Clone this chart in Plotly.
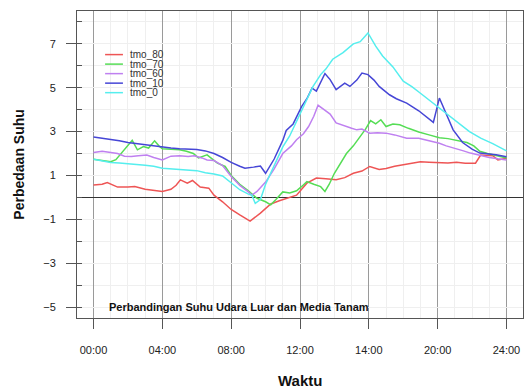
import plotly.graph_objects as go

# Temperature difference (outside air vs. growing medium) over one day
series_names = ["tmo_80", "tmo_70", "tmo_60", "tmo_10", "tmo_0"]
series_colors = ["#ee5555", "#55dd55", "#bf80f0", "#4646d6", "#55eeee"]

t_80 = [0, 0.5, 0.8, 1.0, 1.4, 2.0, 2.4, 3.0, 3.5, 4.0, 4.5, 4.8, 5.05, 5.45, 5.75, 6.2, 6.7, 7.0,
        7.5, 8.0, 8.5, 9.1, 9.7, 10.3, 10.8, 11.2, 11.8, 12.4, 12.95, 13.5, 14.1, 14.6, 15.1, 15.6,
        16.05, 16.6, 17.0, 17.5, 18.0, 18.5, 19.0, 19.5, 20.1, 20.6, 21.1, 21.6, 22.2, 22.5, 23.2,
        23.5, 24.0]
v_80 = [0.57, 0.6, 0.68, 0.62, 0.47, 0.47, 0.5, 0.37, 0.33, 0.27, 0.37, 0.55, 0.8, 0.65, 0.77, 0.47,
        0.42, 0.1, -0.2, -0.55, -0.8, -1.08, -0.72, -0.3, -0.15, -0.04, 0.1, 0.65, 0.88, 0.85, 0.8,
        0.9, 1.1, 1.2, 1.41, 1.27, 1.32, 1.42, 1.48, 1.55, 1.62, 1.6, 1.59, 1.57, 1.6, 1.56, 1.56,
        1.93, 1.9, 1.71, 1.78]

t_70 = [0, 0.5, 1.0, 1.3, 1.6, 2.0, 2.25, 2.55, 2.9, 3.2, 3.55, 3.8, 4.0, 4.5, 5.0, 5.4, 5.8, 6.1,
        6.6, 7.2, 7.65, 8.0, 8.5, 9.0, 9.5, 10.0, 10.3, 10.6, 11.0, 11.4, 11.8, 12.1, 12.4, 12.8,
        13.2, 13.45, 13.7, 14.0, 14.4, 14.7, 15.1, 15.5, 15.8, 16.1, 16.4, 16.7, 17.0, 17.4, 17.8,
        18.3, 18.9, 19.5, 20.1, 20.6, 21.2, 21.7, 22.1, 22.45, 22.9, 23.4, 24.0]
v_70 = [1.74, 1.68, 1.63, 1.72, 2.0, 2.35, 2.6, 2.17, 2.32, 2.25, 2.58, 2.35, 2.22, 2.2, 2.17, 2.1,
        2.0, 1.8, 1.94, 1.56, 1.41, 1.0, 0.6, 0.3, -0.04, -0.2, -0.34, -0.1, 0.25, 0.2, 0.3, 0.5,
        0.72, 0.6, 0.49, 0.27, 0.6, 1.1, 1.6, 2.0, 2.35, 2.78, 3.1, 3.5, 3.35, 3.54, 3.23, 3.35,
        3.31, 3.15, 2.98, 2.85, 2.72, 2.68, 2.6, 2.5, 2.35, 2.1, 2.0, 1.9, 1.8]

t_60 = [0, 0.5, 1.0, 1.4, 1.8, 2.2, 2.6, 3.1, 3.5, 4.0, 4.5, 5.0, 5.5, 5.85, 6.3, 6.6, 7.0, 7.5,
        8.0, 8.5, 9.0, 9.2, 9.5, 10.0, 10.5, 11.0, 11.5, 11.8, 12.2, 12.5, 12.8, 13.05, 13.4, 13.75,
        14.1, 14.6, 15.0, 15.3, 15.6, 16.05, 16.5, 17.0, 17.5, 18.2, 18.9, 19.5, 20.1, 20.5, 21.0,
        21.5, 21.9, 22.5, 23.0, 23.5, 24.0]
v_60 = [2.05, 2.1, 2.05, 2.0, 1.88, 1.86, 1.9, 1.93, 1.82, 1.71, 1.88, 1.9, 1.86, 1.9, 1.8, 1.71,
        1.68, 1.45, 0.95, 0.55, 0.25, 0.1, 0.27, 0.7, 1.3, 2.0, 2.35, 2.63, 2.9, 3.23, 3.7, 4.2,
        4.0, 3.8, 3.4, 3.25, 3.15, 3.08, 3.12, 2.93, 2.95, 2.93, 2.85, 2.7, 2.7, 2.58, 2.47, 2.35,
        2.25, 2.12, 2.02, 1.9, 1.82, 1.76, 1.71]

t_10 = [0, 0.5, 1.0, 1.5, 2.0, 2.5, 3.0, 3.5, 4.0, 4.5, 5.0, 5.5, 6.0, 6.5, 7.0, 7.5, 8.0, 8.5,
        8.8, 9.3, 9.7, 10.0, 10.5, 11.0, 11.2, 11.6, 12.1, 12.4, 12.7, 12.95, 13.45, 13.75, 14.1,
        14.6, 14.9, 15.3, 15.6, 15.95, 16.3, 16.6, 17.2, 17.6, 18.2, 18.9, 19.4, 19.75, 20.1, 20.5,
        20.9, 21.45, 22.0, 22.45, 23.0, 23.4, 24.0]
v_10 = [2.75, 2.7, 2.62, 2.58, 2.5, 2.45, 2.4, 2.35, 2.27, 2.25, 2.22, 2.2, 2.18, 2.12, 2.0, 1.82,
        1.6, 1.42, 1.33, 1.38, 1.43, 1.1, 1.75, 2.6, 3.05, 3.35, 4.15, 4.5, 4.98, 4.85, 5.65, 5.37,
        4.91, 5.21, 5.06, 5.35, 5.67, 5.6, 5.35, 5.06, 4.68, 4.5, 4.3, 3.95, 3.65, 3.42, 4.53, 3.84,
        3.08, 2.5, 2.2, 2.02, 1.98, 1.94, 1.85]

t_0 = [0, 0.5, 1.0, 1.5, 2.0, 2.5, 3.0, 3.5, 4.0, 4.5, 5.0, 5.5, 6.0, 6.5, 7.0, 7.5, 8.0, 8.5, 9.0,
       9.2, 9.4, 9.7, 10.0, 10.45, 11.0, 11.4, 12.1, 12.75, 13.2, 13.5, 13.9, 14.5, 15.1, 15.5,
       15.95, 16.4, 16.8, 17.4, 18.0, 18.5, 19.0, 19.5, 20.1, 21.0, 21.85, 22.5, 23.2, 24.0]
v_0 = [1.74, 1.65, 1.59, 1.57, 1.55, 1.5, 1.47, 1.42, 1.33, 1.3, 1.26, 1.25, 1.22, 1.12, 1.07, 0.98,
       0.65, 0.35, 0.15, 0.1, -0.27, -0.1, 0.6, 1.4, 2.3, 2.8, 4.0, 5.05, 5.6, 5.85, 6.3, 6.6, 7.0,
       7.1, 7.5, 6.9, 6.45, 5.95, 5.3, 5.05, 4.75, 4.45, 4.07, 3.55, 3.0, 2.7, 2.45, 2.12]

tick_pos = [0, 4, 8, 12, 16, 20, 24]
tick_text = ["00:00", "04:00", "08:00", "12:00", "14:00", "20:00", "24:00"]

times = [t_80, t_70, t_60, t_10, t_0]
values = [v_80, v_70, v_60, v_10, v_0]

FONT = "Liberation Sans, Arial, sans-serif"

fig = go.Figure()
for name, color, t, v in zip(series_names, series_colors, times, values):
    fig.add_trace(go.Scatter(x=t, y=v, mode="lines", name=name,
                             line=dict(color=color, width=1.5), showlegend=False))

# Compact legend drawn as short line samples with labels
leg_x0, leg_x1, leg_tx = 0.063, 0.103, 0.117
leg_y0, leg_dy = 0.858, 0.031
for i, (name, color) in enumerate(zip(series_names, series_colors)):
    yy = leg_y0 - i * leg_dy
    fig.add_shape(type="line", xref="paper", yref="paper", x0=leg_x0, x1=leg_x1, y0=yy, y1=yy,
                  line=dict(color=color, width=1.5))
    fig.add_annotation(xref="paper", yref="paper", x=leg_tx, y=yy, text=name, showarrow=False,
                       xanchor="left", yanchor="middle", borderpad=0,
                       font=dict(family=FONT, size=10, color="#333"))

fig.add_annotation(x=0.8, y=-5.0, text="<b>Perbandingan Suhu Udara Luar dan Media Tanam</b>",
                   showarrow=False, xanchor="left", yanchor="middle",
                   font=dict(family=FONT, size=11, color="#111"))

fig.add_annotation(xref="paper", yref="paper", x=-0.132, y=0.5, text="<b>Perbedaan Suhu</b>",
                   textangle=-90, showarrow=False, xanchor="center", yanchor="middle",
                   font=dict(family=FONT, size=14, color="#111"))
fig.add_annotation(xref="paper", yref="paper", x=0.5, y=-0.202, text="<b>Waktu</b>",
                   showarrow=False, xanchor="center", yanchor="middle",
                   font=dict(family=FONT, size=15, color="#111"))

fig.update_layout(
    width=524, height=388,
    margin=dict(l=77, r=1, t=11, b=70),
    paper_bgcolor="white", plot_bgcolor="white",
    font=dict(family=FONT, size=11, color="#222"),
    xaxis=dict(range=[-0.96, 24.96], tickmode="array", tickvals=tick_pos, ticktext=tick_text,
               ticks="outside", ticklen=10, tickcolor="#555", ticklabelstandoff=12,
               showgrid=True, gridcolor="#9a9a9a", gridwidth=1,
               minor=dict(tickmode="linear", tick0=0, dtick=1, showgrid=True,
                          gridcolor="#efefef", ticks=""),
               showline=True, mirror=True, linecolor="#555", linewidth=1, zeroline=False),
    yaxis=dict(range=[-5.5, 8.5], tickmode="linear", tick0=1, dtick=2,
               ticks="outside", ticklen=10, tickcolor="#555", ticklabelstandoff=8,
               showgrid=True, gridcolor="#efefef",
               minor=dict(tickmode="linear", tick0=0, dtick=1, showgrid=True,
                          gridcolor="#efefef", ticks="inside", ticklen=5, tickcolor="#555"),
               zeroline=True, zerolinecolor="#333", zerolinewidth=1,
               showline=True, mirror=True, linecolor="#555", linewidth=1),
)

fig.write_html("out.html")
